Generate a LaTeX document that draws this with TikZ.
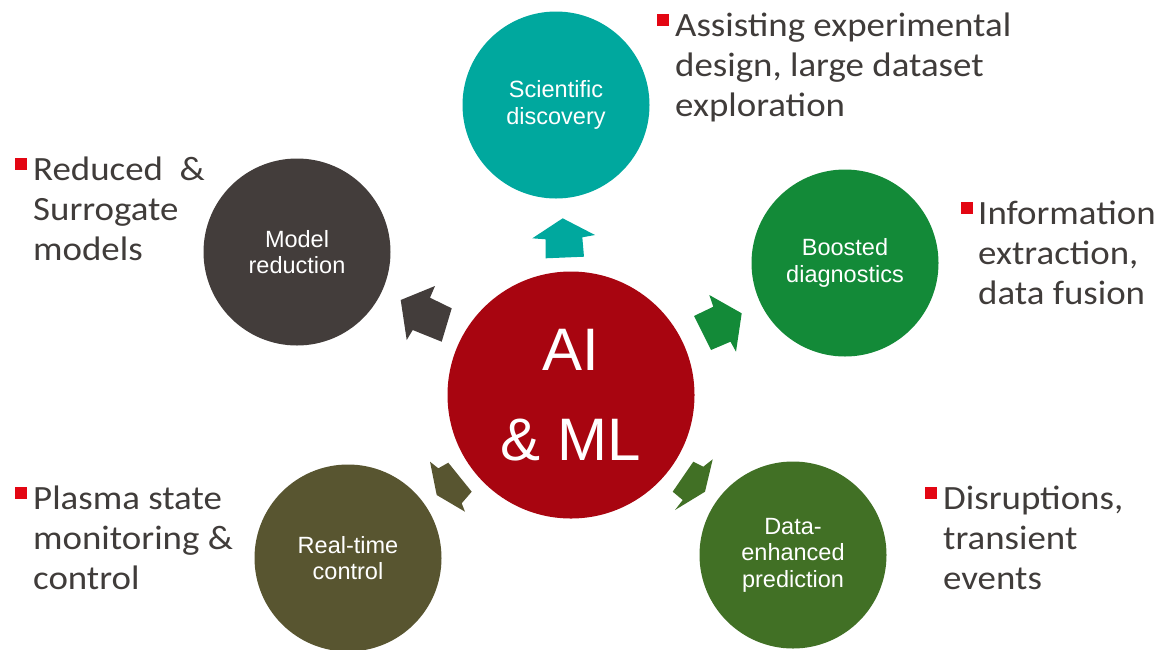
\documentclass[tikz,border=0pt]{standalone}
\usepackage{fontspec}
\setmainfont{Carlito}
\newfontfamily\notefont{Carlito}[FakeStretch=1.085]
\newfontfamily\circfont{Liberation Sans}
\usetikzlibrary{positioning}

\definecolor{aiRed}{RGB}{168,5,16}
\definecolor{sciTeal}{RGB}{0,168,158}
\definecolor{modelGray}{RGB}{67,61,59}
\definecolor{boostGreen}{RGB}{19,138,56}
\definecolor{rtcOlive}{RGB}{88,85,48}
\definecolor{predGreen}{RGB}{65,112,37}
\definecolor{noteGray}{RGB}{64,60,58}
\definecolor{bulletRed}{RGB}{227,6,19}

\tikzset{
  topic/.style={circle, minimum size=187pt, inner sep=0pt, text=white, align=center,
    font=\circfont\fontsize{23.5}{26.5}\selectfont},
  % anchored on the baseline of the last line
  note/.style={anchor=base west, inner sep=0pt, align=left, text=noteGray,
    font=\notefont\fontsize{34}{40}\selectfont},
  bullet/.style={fill=bulletRed, minimum size=12pt, inner sep=0pt}
}

\begin{document}
\begin{tikzpicture}[x=1pt, y=-1pt]
  \useasboundingbox (0,0) rectangle (1161,649);

  % centre
  \node[circle, fill=aiRed, minimum size=247pt, inner sep=0pt, text=white, align=center,
    font=\circfont\fontsize{60}{90}\selectfont] (ai) at (571,395) {AI\\\& ML};

  % topics
  \node[topic, fill=sciTeal] (sci) at (556,105) {Scientific\\discovery};
  \node[topic, fill=modelGray] (model) at (297,252) {Model\\reduction};
  \node[topic, fill=boostGreen] (boost) at (845,263) {Boosted\\diagnostics};
  \node[topic, fill=rtcOlive] (rtc) at (348,558) {Real-time\\control};
  \node[topic, fill=predGreen] (pred) at (793,555) {Data-\\enhanced\\prediction};

  % block arrows
  \fill[sciTeal] (562.7,218.3) -- (595,235) -- (582.3,237.3) -- (584,256.7)
    -- (545.7,258.3) -- (545.7,239.3) -- (532.3,238.3) -- cycle;
  \fill[modelGray] (400.7,300) -- (435,286) -- (430,297.7) -- (451.7,308.3)
    -- (441.7,341.7) -- (412.7,330) -- (406.7,340) -- cycle;
  \fill[boostGreen] (741.7,313.3) -- (736,351.7) -- (730.5,341.7) -- (711,350)
    -- (694,316) -- (713.3,306.7) -- (709.3,295) -- cycle;
  \fill[rtcOlive] (436.7,495) -- (430,461.7) -- (438.3,468.3) -- (448.3,462.7)
    -- (471.7,491.7) -- (461.7,503.3) -- (465,511.7) -- cycle;
  \fill[predGreen] (705,491.7) -- (712.7,459.3) -- (703.3,466.7) -- (693.3,461.7)
    -- (672.7,491.7) -- (682.7,500) -- (675,510) -- cycle;

  % notes
  \node[bullet] (sciDot) at (663,20) {};
  \node[note] (sciNote) at (675,116.7) {Assisting experimental\\design, large dataset\\exploration};
  \node[bullet] (modelDot) at (21,164) {};
  \node[note] (modelNote) at (33,260.5) {Reduced\ \ \&\\Surrogate\\models};
  \node[bullet] (boostDot) at (967,208) {};
  \node[note] (boostNote) at (978,304) {Information\\extraction,\\data fusion};
  \node[bullet] (rtcDot) at (21,493) {};
  \node[note] (rtcNote) at (33,589.3) {Plasma state\\monitoring \&\\control};
  \node[bullet] (predDot) at (931,493) {};
  \node[note] (predNote) at (943,589) {Disruptions,\\transient\\events};
\end{tikzpicture}
\end{document}
